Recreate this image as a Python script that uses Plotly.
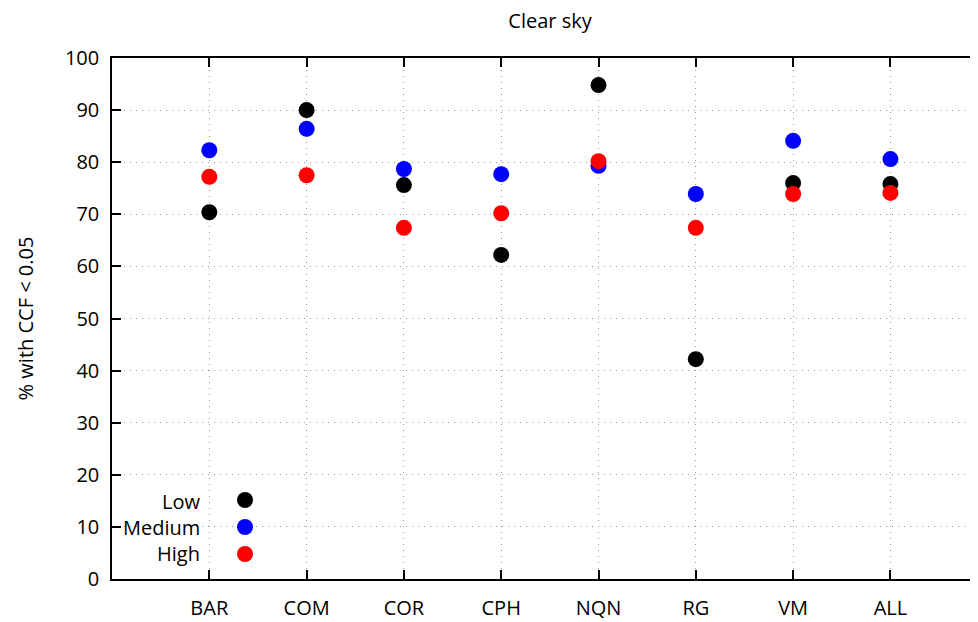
import plotly.graph_objects as go

categories = ["BAR", "COM", "COR", "CPH", "NQN", "RG", "VM", "ALL"]
positions = [1, 2, 3, 4, 5, 6, 7, 8]
low = [70.4, 90.0, 75.6, 62.2, 94.8, 42.2, 76.0, 75.8]
medium = [82.3, 86.4, 78.7, 77.7, 79.3, 73.9, 84.1, 80.6]
high = [77.2, 77.5, 67.4, 70.2, 80.2, 67.4, 73.9, 74.1]
series_names = ["Low", "Medium", "High"]
series_colors = ["black", "blue", "red"]
y_ticks = [0, 10, 20, 30, 40, 50, 60, 70, 80, 90, 100]

FONT = "Open Sans"
FS = 20
fig = go.Figure()
for name, vals, col in zip(series_names, [low, medium, high], series_colors):
    fig.add_trace(go.Scatter(x=positions, y=vals, mode="markers", name=name,
                             marker=dict(color=col, size=16, line=dict(width=0)),
                             showlegend=False, cliponaxis=False))

# gnuplot-style key: right-aligned text with the symbol to its right
key_y = [0.1516, 0.0998, 0.048]
key_text_y = [0.148, 0.0998, 0.048]
for name, col, ky, ty in zip(series_names, series_colors, key_y, key_text_y):
    fig.add_annotation(xref="paper", yref="paper", x=0.1036, y=ty, text=name,
                       showarrow=False, xanchor="right", yanchor="middle",
                       font=dict(family=FONT, size=FS, color="black"))
    fig.add_shape(type="circle", xref="paper", yref="paper",
                  x0=-8, x1=8, y0=-8, y1=8,
                  xsizemode="pixel", ysizemode="pixel",
                  xanchor=0.1536, yanchor=ky,
                  fillcolor=col, line=dict(width=0))

grid = dict(showgrid=True, gridcolor="#9a9a9a", griddash="1px,5px", gridwidth=1)

fig.update_layout(
    width=970, height=614,
    margin=dict(l=104, r=0, t=50, b=43, autoexpand=False),
    plot_bgcolor="white", paper_bgcolor="white",
    font=dict(family=FONT, size=FS, color="black"),
    title=dict(text="Clear sky", xref="container", x=0.5588, xanchor="center",
               yref="container", y=0.979, yanchor="middle",
               font=dict(family=FONT, size=FS, color="black")),
    xaxis=dict(range=[0, 8.9], tickmode="array", tickvals=positions, ticktext=categories,
               ticks="inside", ticklen=9, tickwidth=1.5, tickcolor="black",
               showline=True, linecolor="black", linewidth=1.5, mirror="ticks",
               zeroline=False, ticklabelstandoff=10, automargin=False,
               tickfont=dict(family=FONT, size=FS, color="black"), **grid),
    yaxis=dict(range=[0, 100], tickmode="array", tickvals=y_ticks,
               ticks="inside", ticklen=9, tickwidth=1.5, tickcolor="black",
               showline=True, linecolor="black", linewidth=1.5, mirror=False,
               zeroline=False, ticklabelstandoff=7, automargin=False,
               title=dict(text="% with CCF < 0.05", standoff=26,
                          font=dict(family=FONT, size=FS, color="black")),
               tickfont=dict(family=FONT, size=FS, color="black"), **grid),
)

fig.write_html("out.html")
